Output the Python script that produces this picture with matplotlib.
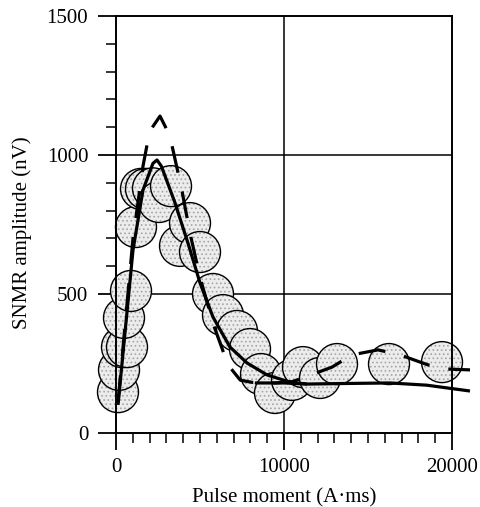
import matplotlib
matplotlib.use("Agg")
import matplotlib.pyplot as plt
from matplotlib.ticker import MultipleLocator

plt.rcParams['font.family'] = ['Liberation Serif', 'DejaVu Serif']
plt.rcParams['hatch.color'] = '#a5a5a5'
plt.rcParams['hatch.linewidth'] = 0.7

# Measured SNMR amplitudes
pulse_moment = [119, 179, 357, 655, 476, 893, 1190, 1488, 1786, 2202, 2560,
                3274, 3810, 4405, 5000, 5774, 6369, 7202, 7976, 8631, 9464,
                10476, 11131, 12143, 13155, 16250, 19405]
amplitude = [147, 227, 309, 309, 414, 511, 741, 878, 878, 880, 831,
             888, 673, 755, 651, 500, 424, 367, 302, 212, 144,
             191, 237, 198, 248, 248, 255]

# Model curve 1 (solid)
fit1_q = [119, 1012, 1607, 2200, 2440, 2700, 3500, 4300, 5000, 5774, 6786,
          7798, 8988, 10357, 11369]
fit1_a = [101, 658, 874, 970, 982, 960, 830, 680, 540, 417, 309,
          252, 209, 183, 176]

# Model curve 2 (solid, late-time branch)
fit2_q = [8274, 10000, 11369, 13500, 16310, 18500, 21071]
fit2_a = [180, 180, 176, 178, 180, 172, 151]

# Model curve 3 (dashed)
fit3_q = [119, 1012, 1607, 2000, 2620, 3200, 3900, 4400, 5000, 5800, 6667,
          7400, 8300, 9500, 10500, 11250, 12857, 14048, 15595, 16905, 18571,
          19762, 21071]
fit3_a = [110, 700, 960, 1085, 1140, 1070, 880, 720, 560, 390, 245,
          190, 180, 180, 185, 201, 237, 281, 299, 281, 245,
          230, 227]

fig = plt.figure(figsize=(4.81, 5.07), dpi=100)
ax = fig.add_axes([116 / 481, 1 - 433 / 507, 336 / 481, 417 / 507])

ax.set_xlim(0, 20000)
ax.set_ylim(0, 1500)

# grid lines at the major ticks
for yv in (500, 1000):
    ax.axhline(yv, color='black', lw=1.1, zorder=1)
ax.axvline(10000, color='black', lw=1.1, zorder=1)

# stippled circles: fill, dot texture, outline
for q, a in zip(pulse_moment, amplitude):
    ax.scatter([q], [a], s=29.5 ** 2, facecolor='#ececec', edgecolor='none',
               zorder=2, clip_on=False)
    ax.scatter([q], [a], s=29.5 ** 2, facecolor='none', edgecolor='#a5a5a5',
               linewidths=0, hatch='....', zorder=2, clip_on=False)
    ax.scatter([q], [a], s=29.5 ** 2, facecolor='none', edgecolor='black',
               linewidths=1.0, zorder=2, clip_on=False)

ax.plot(fit1_q, fit1_a, color='black', lw=2.3, zorder=4, clip_on=False,
        solid_capstyle='butt')
ax.plot(fit2_q, fit2_a, color='black', lw=2.3, zorder=4, clip_on=False,
        solid_capstyle='butt')
dl, = ax.plot(fit3_q, fit3_a, color='black', lw=2.3, zorder=4, clip_on=False,
              dash_capstyle='butt')
dl.set_dashes([8.5, 6])

for s in ax.spines.values():
    s.set_linewidth(1.4)

ax.xaxis.set_major_locator(MultipleLocator(10000))
ax.xaxis.set_minor_locator(MultipleLocator(1000))
ax.yaxis.set_major_locator(MultipleLocator(500))
ax.yaxis.set_minor_locator(MultipleLocator(100))

ax.tick_params(axis='x', which='major', direction='out', length=12, width=1.3,
               pad=6, labelsize=15)
ax.tick_params(axis='x', which='minor', direction='out', length=7, width=1.1)
ax.tick_params(axis='y', which='major', direction='out', length=13, width=1.3,
               pad=7, labelsize=15)
ax.tick_params(axis='y', which='minor', direction='out', length=7, width=1.1)

ax.set_xlabel('Pulse moment (A·ms)', fontsize=15, labelpad=8)
ax.set_ylabel('SNMR amplitude (nV)', fontsize=15)
ax.yaxis.set_label_coords(-0.25, 0.48)

fig.savefig('out.png', dpi=100)
